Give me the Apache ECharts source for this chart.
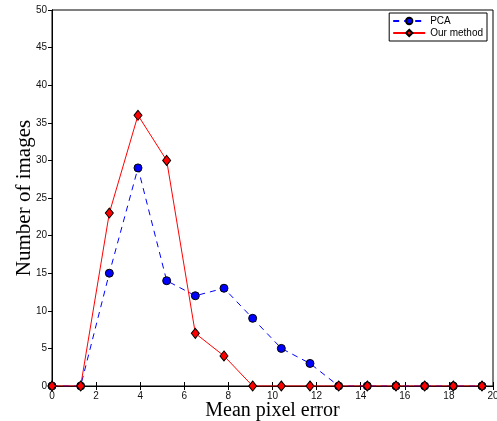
<!DOCTYPE html>
<html>
<head>
<meta charset="utf-8">
<script src="https://cdn.jsdelivr.net/npm/echarts@6/dist/echarts.min.js"></script>
<style>
html, body { margin: 0; padding: 0; background: #fff; }
#chart { width: 497px; height: 421px; }
</style>
</head>
<body>
<div id="chart"></div>
<script>
const xValues = [0, 1.3, 2.6, 3.9, 5.2, 6.5, 7.8, 9.1, 10.4, 11.7, 13, 14.3, 15.6, 16.9, 18.2, 19.5];
const pcaValues = [0, 0, 15, 29, 14, 12, 13, 9, 5, 3, 0, 0, 0, 0, 0, 0];
const ourValues = [0, 0, 23, 36, 30, 7, 4, 0, 0, 0, 0, 0, 0, 0, 0, 0];

const pairs = (ys) => xValues.map((x, i) => [x, ys[i]]);

let myChart = echarts.init(document.getElementById('chart'));

const tickIn = { show: true, inside: true, length: 4, lineStyle: { color: '#000' } };
const axisLine = { show: true, lineStyle: { color: '#000', width: 1 } };
const labelStyle = { color: '#111', fontSize: 10, fontFamily: 'Liberation Sans, Arial' };

let option = {
    animation: false,
    grid: {
        left: 52, right: 4, top: 10, bottom: 35,
        outerBoundsMode: 'none',
        containLabel: false,
        show: true, borderColor: '#000', borderWidth: 1
    },
    legend: {
        orient: 'vertical',
        right: 10,
        top: 13,
        backgroundColor: '#fff',
        borderColor: '#000',
        borderWidth: 1,
        padding: [3, 4, 3, 3],
        itemGap: 2,
        itemWidth: 32,
        itemHeight: 8,
        textStyle: { fontSize: 10, color: '#000', fontFamily: 'Liberation Sans, Arial' },
        data: ['PCA', 'Our method']
    },
    xAxis: [
        {
            type: 'value',
            min: 0,
            max: 20,
            interval: 2,
            name: 'Mean pixel error',
            nameLocation: 'middle',
            nameGap: 15,
            nameMoveOverlap: false,
            nameTextStyle: { fontSize: 20, color: '#000', fontFamily: 'Liberation Serif, Times New Roman', verticalAlign: 'top' },
            axisLine: axisLine,
            axisTick: tickIn,
            axisLabel: Object.assign({ margin: 5 }, labelStyle),
            splitLine: { show: false }
        },
        {
            type: 'value',
            position: 'top',
            min: 0,
            max: 20,
            interval: 2,
            axisLine: axisLine,
            axisTick: tickIn,
            axisLabel: { show: false },
            splitLine: { show: false }
        }
    ],
    yAxis: [
        {
            type: 'value',
            min: 0,
            max: 50,
            interval: 5,
            name: 'Number of images',
            nameLocation: 'middle',
            nameGap: 17,
            nameMoveOverlap: false,
            nameTextStyle: { fontSize: 21, color: '#000', fontFamily: 'Liberation Serif, Times New Roman' },
            axisLine: axisLine,
            axisTick: { show: true, inside: false, length: 3, lineStyle: { color: '#000' } },
            axisLabel: Object.assign({ margin: 5 }, labelStyle),
            splitLine: { show: false }
        },
        {
            type: 'value',
            position: 'right',
            min: 0,
            max: 50,
            interval: 5,
            axisLine: axisLine,
            axisTick: tickIn,
            axisLabel: { show: false },
            splitLine: { show: false }
        }
    ],
    series: [
        {
            name: 'PCA',
            type: 'line',
            data: pairs(pcaValues),
            symbol: 'circle',
            symbolSize: 8,
            itemStyle: { color: '#0000ff', borderColor: '#000', borderWidth: 1 },
            lineStyle: { color: '#0000ff', width: 1, type: [6, 5] },
            z: 3
        },
        {
            name: 'Our method',
            type: 'line',
            data: pairs(ourValues),
            symbol: 'diamond',
            symbolSize: [8, 10],
            itemStyle: { color: '#ff0000', borderColor: '#000', borderWidth: 1 },
            lineStyle: { color: '#ff0000', width: 1 },
            z: 4
        }
    ]
};
myChart.setOption(option);
</script>
</body>
</html>
